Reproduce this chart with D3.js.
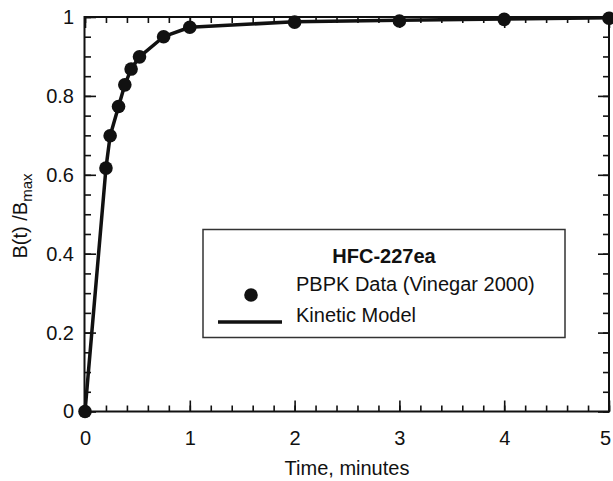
<!DOCTYPE html>
<html>
<head>
<meta charset="utf-8">
<script src="https://cdn.jsdelivr.net/npm/d3@7"></script>
<style>
  html, body { margin: 0; padding: 0; background: #fff; }
  svg { display: block; font-family: "Liberation Sans", Arial, sans-serif; }
</style>
</head>
<body>
<svg id="chart" width="613" height="481"></svg>
<script>
// ---- data ----
const dataTime  = [0, 0.2, 0.24, 0.32, 0.38, 0.44, 0.52, 0.75, 1.0, 2.0, 3.0, 4.0, 5.0];
const dataValue = [0, 0.617, 0.699, 0.773, 0.828, 0.868, 0.899, 0.950, 0.974, 0.987, 0.990, 0.994, 0.997];
const modelTime  = [0, 0.2, 0.24, 0.32, 0.38, 0.44, 0.52, 0.75, 1.0, 2.0, 3.0, 4.0, 5.0];
const modelValue = [0, 0.617, 0.699, 0.773, 0.828, 0.868, 0.899, 0.950, 0.974, 0.988, 0.992, 0.995, 0.998];
const xTicks = [0, 1, 2, 3, 4, 5];
const xTickLabels = ["0", "1", "2", "3", "4", "5"];
const yTicks = [0, 0.2, 0.4, 0.6, 0.8, 1];
const yTickLabels = ["0", "0.2", "0.4", "0.6", "0.8", "1"];
const xMinor = d3.range(0, 5.0001, 0.2);
const yMinor = d3.range(0, 1.0001, 0.05);
const legendTitle = "HFC-227ea";
const legendData = "PBPK Data (Vinegar 2000)";
const legendModel = "Kinetic Model";
const xLabel = "Time, minutes";

// ---- layout ----
const svg = d3.select("#chart");
const L = 85, R = 609, T = 17, B = 411.5;
const x = d3.scaleLinear().domain([0, 5]).range([L, R]);
const y = d3.scaleLinear().domain([0, 1]).range([B, T]);
const ink = "#111";
const fs = 20;

function styleAxis(g) {
  g.select(".domain").remove();
  g.selectAll("line").attr("stroke", ink).attr("stroke-width", 1.6);
  g.selectAll("text").attr("fill", ink).style("font-size", fs + "px").style("font-family", "'Liberation Sans', Arial, sans-serif");
}

// minor ticks
svg.append("g").attr("transform", `translate(0,${B})`)
  .call(d3.axisBottom(x).tickValues(xMinor).tickSize(-6).tickFormat(""))
  .call(styleAxis);
svg.append("g").attr("transform", `translate(0,${T})`)
  .call(d3.axisTop(x).tickValues(xMinor).tickSize(-6).tickFormat(""))
  .call(styleAxis);
svg.append("g").attr("transform", `translate(${L},0)`)
  .call(d3.axisLeft(y).tickValues(yMinor).tickSize(-6).tickFormat(""))
  .call(styleAxis);
svg.append("g").attr("transform", `translate(${R},0)`)
  .call(d3.axisRight(y).tickValues(yMinor).tickSize(-6).tickFormat(""))
  .call(styleAxis);

// major ticks with labels
const xAxisG = svg.append("g").attr("transform", `translate(0,${B})`)
  .call(d3.axisBottom(x).tickValues(xTicks).tickSize(-11).tickPadding(19)
    .tickFormat((d, i) => xTickLabels[i]))
  .call(styleAxis);
xAxisG.selectAll("text").filter(d => d === 5).attr("dx", -4);
svg.append("g").attr("transform", `translate(${L},0)`)
  .call(d3.axisLeft(y).tickValues(yTicks).tickSize(-11).tickPadding(11)
    .tickFormat((d, i) => yTickLabels[i]))
  .call(styleAxis);
svg.append("g").attr("transform", `translate(0,${T})`)
  .call(d3.axisTop(x).tickValues(xTicks).tickSize(-11).tickFormat(""))
  .call(styleAxis);
svg.append("g").attr("transform", `translate(${R},0)`)
  .call(d3.axisRight(y).tickValues(yTicks).tickSize(-11).tickFormat(""))
  .call(styleAxis);

// frame
svg.append("rect")
  .attr("x", L - 0.5).attr("y", T).attr("width", R - L + 0.5).attr("height", B - T)
  .attr("fill", "none").attr("stroke", ink).attr("stroke-width", 2);

// model line
const line = d3.line().x(d => x(d[0])).y(d => y(d[1]));
svg.append("path")
  .datum(modelTime.map((t, i) => [t, modelValue[i]]))
  .attr("d", line)
  .attr("fill", "none").attr("stroke", ink).attr("stroke-width", 3.5)
  .attr("stroke-linejoin", "round");

// data points
svg.append("g").selectAll("circle")
  .data(dataTime.map((t, i) => [t, dataValue[i]]))
  .join("circle")
  .attr("cx", d => x(d[0])).attr("cy", d => y(d[1]))
  .attr("r", 6.8).attr("fill", ink);

// axis labels
svg.append("text")
  .attr("x", 347).attr("y", 475)
  .attr("text-anchor", "middle").attr("fill", ink)
  .style("font-size", fs + "px")
  .text(xLabel);

const yl = svg.append("text")
  .attr("transform", "translate(27,216) rotate(-90)")
  .attr("text-anchor", "middle").attr("fill", ink)
  .style("font-size", fs + "px");
yl.append("tspan").text("B(t) /B");
yl.append("tspan").attr("dy", 5).style("font-size", "15px").text("max");

// legend
const lg = svg.append("g");
lg.append("rect")
  .attr("x", 203).attr("y", 229.5).attr("width", 362).attr("height", 108)
  .attr("fill", "#fff").attr("stroke", "#333").attr("stroke-width", 1.5);
lg.append("text")
  .attr("x", 384).attr("y", 263).attr("text-anchor", "middle")
  .attr("fill", ink).style("font-size", fs + "px").style("font-weight", "bold")
  .text(legendTitle);
lg.append("circle").attr("cx", 251).attr("cy", 295).attr("r", 6.8).attr("fill", ink);
lg.append("text")
  .attr("x", 296).attr("y", 291)
  .attr("fill", ink).style("font-size", fs + "px")
  .text(legendData);
lg.append("line")
  .attr("x1", 218).attr("x2", 282).attr("y1", 322).attr("y2", 322)
  .attr("stroke", ink).attr("stroke-width", 3.5);
lg.append("text")
  .attr("x", 296).attr("y", 322)
  .attr("fill", ink).style("font-size", fs + "px")
  .text(legendModel);
</script>
</body>
</html>
